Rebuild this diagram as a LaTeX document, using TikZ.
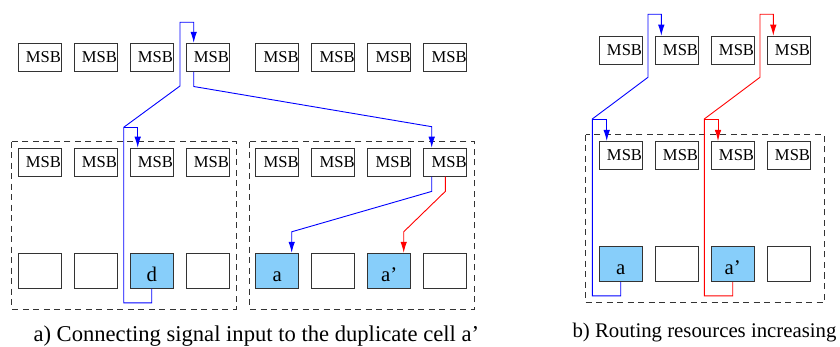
\documentclass[tikz,border=0pt]{standalone}
\usepackage{fontspec}
\setmainfont{Liberation Serif}
\usetikzlibrary{arrows.meta}
\definecolor{cellblue}{RGB}{135,206,250}

\begin{document}
\begin{tikzpicture}[
    x=1pt, y=-1pt,
    msb/.style={rectangle, draw=black!80, line width=1pt, minimum width=42.7pt, minimum height=28pt,
                inner sep=0, text width=42.7pt, align=right, font=\fontsize{16.6}{18}\selectfont},
    cell/.style={rectangle, draw=black!80, line width=1pt, minimum width=42.7pt, minimum height=35pt, inner sep=0},
    used/.style={cell, fill=cellblue},
    celltext/.style={anchor=base, inner sep=0, font=\fontsize{20.8}{24}\selectfont},
    caption/.style={anchor=base, inner sep=0},
    group/.style={draw=black!80, line width=0.9pt, dash pattern=on 6pt off 4.5pt},
    wire/.style={line width=0.9pt},
    tip/.style={-{Latex[length=11pt,width=6.5pt]}}
]
\useasboundingbox (0,0) rectangle (840,347);

% ============================================
% a) DUPLICATE CELL a'
% ============================================

% Fila superior de MSB
\foreach \i/\x in {1/39.7, 2/95.7, 3/151.7, 4/207.7, 5/277.3, 6/333.3, 7/389.3, 8/445.3}
    \node[msb] (top\i) at (\x,57.3) {MSB};

% Grupos (marco discontinuo)
\draw[group] (11.7,141.7) rectangle (236,309);
\draw[group] (249.3,141.7) rectangle (474,309);

% MSB dentro de los grupos
\foreach \i/\x in {1/39.7, 2/95.7, 3/151.7, 4/207.7, 5/277.3, 6/333.3, 7/389.3, 8/445.3}
    \node[msb] (mid\i) at (\x,162.2) {MSB};

% Celdas
\foreach \i/\x in {1/39.7, 2/95.7, 4/207.7, 6/333.3, 8/445.3}
    \node[cell] (low\i) at (\x,270.8) {};
\node[used] (low3) at (151.7,270.8) {};
\node[used] (low5) at (277.3,270.8) {};
\node[used] (low7) at (389.3,270.8) {};
\node[celltext] (labd)  at ([yshift=-10.5pt]low3.center) {d};
\node[celltext] (laba)  at ([yshift=-10.5pt]low5.center) {a};
\node[celltext] (labap) at ([yshift=-10.5pt]low7.center) {a'};

% Rutas
\coordinate (dup)  at (123.7,127.3);
\coordinate (bend) at (180,86);
\draw[wire, blue, tip] (low3.south) -- ++(0,14) -| (dup) -- (bend) -- ++(0,-63.7) -| ([xshift=-14pt]top4.north);
\draw[wire, blue, tip] (dup) -| ([xshift=-14pt]mid3.north);
\draw[wire, blue, tip] ([xshift=-14pt]top4.south) -- ++(0,14.7)
    -- ([xshift=-13.6pt, yshift=21pt]mid8.north) -- ([xshift=-13.6pt]mid8.north);
\draw[wire, blue, tip] ([xshift=-13.6pt]mid8.south) -- ++(0,14.7)
    -- ([xshift=14.4pt, yshift=21pt]low5.north) -- ([xshift=14.4pt]low5.north);
\draw[wire, red, tip] (mid8.south) -- ++(0,14.7)
    -- ([xshift=14.4pt, yshift=21pt]low7.north) -- ([xshift=14.4pt]low7.north);

\node[caption, font=\fontsize{22.6}{26}\selectfont] (capa) at (256.3,341.5)
    {a) Connecting signal input to the duplicate cell a'};

% ============================================
% b) ROUTING RESOURCES
% ============================================

\foreach \i/\x in {1/620.7, 2/676.7, 3/732.7, 4/788.7}
    \node[msb] (btop\i) at (\x,50.2) {MSB};

\draw[group] (585.7,134.7) rectangle (824,302.7);

\foreach \i/\x in {1/620.7, 2/676.7, 3/732.7, 4/788.7}
    \node[msb] (bmid\i) at (\x,155.5) {MSB};

\node[used] (blow1) at (620.7,264.2) {};
\node[cell] (blow2) at (676.7,264.2) {};
\node[used] (blow3) at (732.7,264.2) {};
\node[cell] (blow4) at (788.7,264.2) {};
\node[celltext] (bla)  at ([yshift=-10.5pt]blow1.center) {a};
\node[celltext] (blap) at ([yshift=-10.5pt]blow3.center) {a'};

% Rutas
\coordinate (bja) at (592.3,119);
\coordinate (bka) at (648,77.3);
\draw[wire, blue, tip] (blow1.south) -- ++(0,13.6) -| (bja) -- (bka) -- ++(0,-63) -| ([xshift=-15.4pt]btop2.north);
\draw[wire, blue, tip] (bja) -| ([xshift=-14pt]bmid1.north);

\coordinate (bjr) at (704.3,119);
\coordinate (bkr) at (760,77.3);
\draw[wire, red, tip] (blow3.south) -- ++(0,13.6) -| (bjr) -- (bkr) -- ++(0,-63) -| ([xshift=-15.4pt]btop4.north);
\draw[wire, red, tip] (bjr) -| ([xshift=-14.7pt]bmid3.north);

\node[caption, font=\fontsize{20.8}{24}\selectfont] (capb) at (704.5,337.7)
    {b) Routing resources increasing};

\end{tikzpicture}
\end{document}
